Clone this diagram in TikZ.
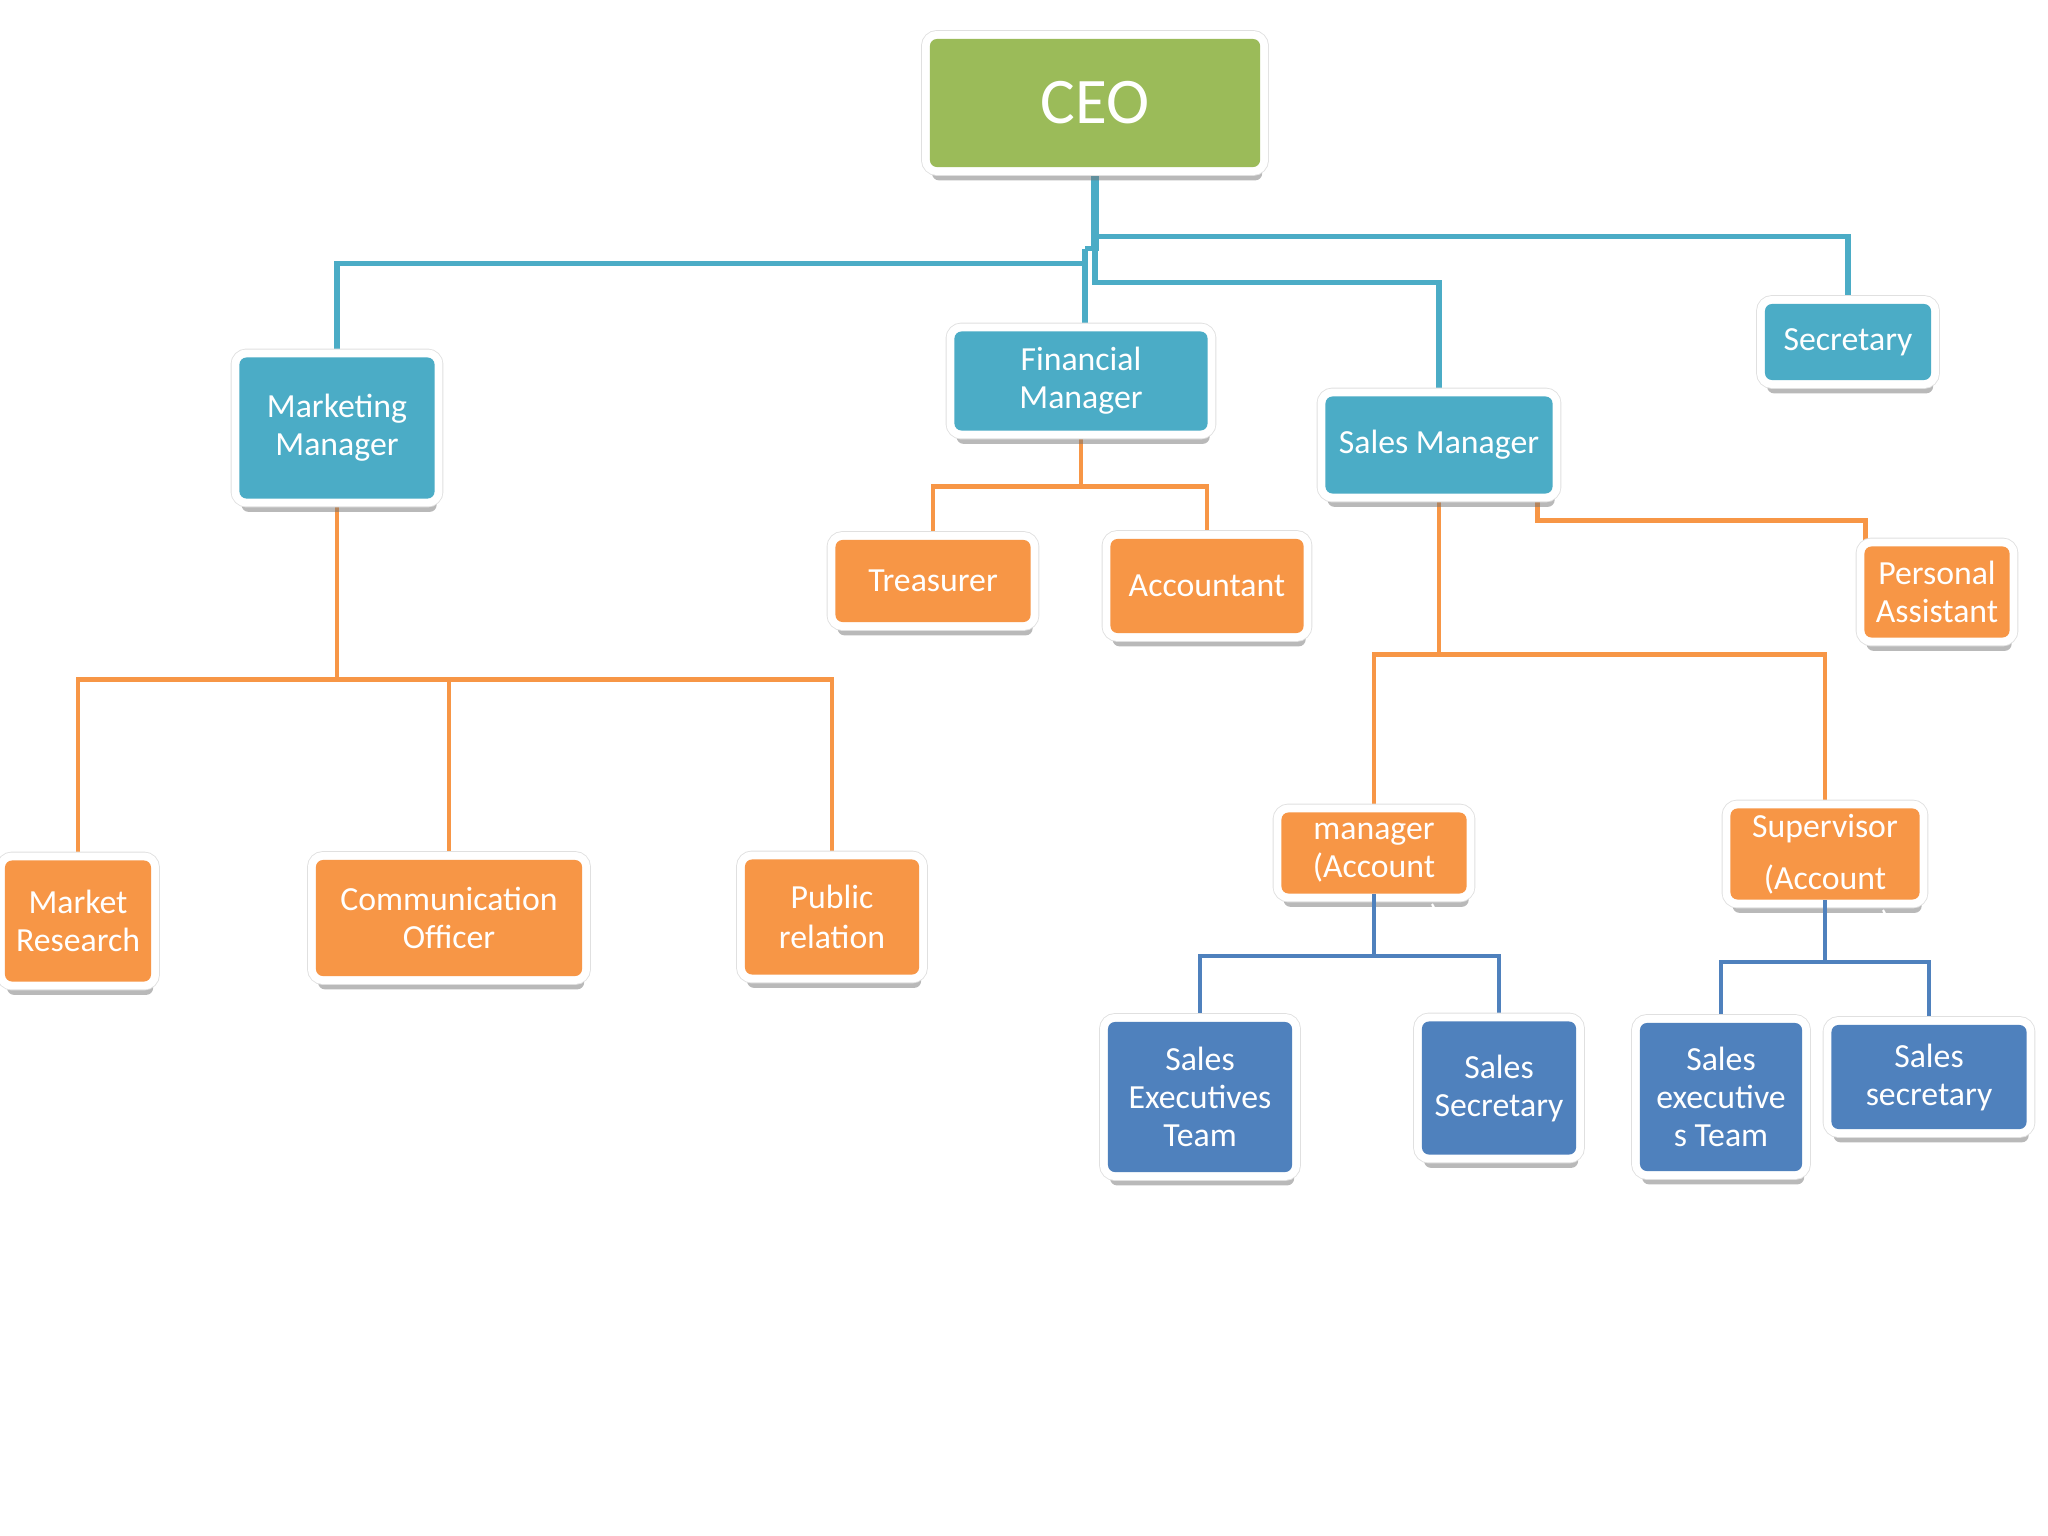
\documentclass[tikz,border=0pt]{standalone}
\usepackage{fontspec}
\setmainfont{Carlito}
\usetikzlibrary{positioning, calc, shadows, backgrounds}

\definecolor{ceogreen}{HTML}{9BBB59}
\definecolor{mgrteal}{HTML}{4BACC6}
\definecolor{staffor}{HTML}{F79646}
\definecolor{teamblue}{HTML}{4F81BD}

\begin{document}
\begin{tikzpicture}[x=0.01cm, y=-0.01cm,
    box/.style={rounded corners=2pt, inner sep=0pt, align=center, text=white,
      font=\fontsize{9.6}{10.8}\selectfont,
      drop shadow={shadow xshift=0.6pt, shadow yshift=-3.8pt, fill=black!55, opacity=0.5},
      preaction={draw=black!12, line width=5pt},
      preaction={draw=white, line width=4.5pt}},
    greenbox/.style={box, fill=ceogreen},
    tealbox/.style={box, fill=mgrteal},
    orangebox/.style={box, fill=staffor},
    bluebox/.style={box, fill=teamblue},
    tealwire/.style={draw=mgrteal, line width=1.5pt},
    orangewire/.style={draw=staffor, line width=1.3pt},
    bluewire/.style={draw=teamblue, line width=1.2pt},
    hidden/.style={font=\fontsize{9.6}{10.8}\selectfont, text=white, inner sep=0pt}
  ]
    \useasboundingbox (0,0) rectangle (2048,1536);

    % Top
    \node[greenbox, minimum width=3.3cm, minimum height=1.28cm,
      font=\fontsize{18.5}{20}\selectfont] (ceo) at (1095,103) {CEO};

    % Managers
    \node[tealbox, minimum width=1.95cm, minimum height=1.41cm] (mkt) at (337,428) {Marketing\\Manager};
    \node[tealbox, minimum width=2.53cm, minimum height=0.99cm] (fin) at (1081,381) {Financial\\Manager};
    \node[tealbox, minimum width=2.27cm, minimum height=0.97cm] (sales) at (1439,445) {Sales Manager};
    \node[tealbox, minimum width=1.66cm, minimum height=0.76cm] (sec) at (1848,342) {Secretary};

    % Staff
    \node[orangebox, minimum width=1.95cm, minimum height=0.82cm] (treas) at (933,581) {Treasurer};
    \node[orangebox, minimum width=1.93cm, minimum height=0.94cm] (acct) at (1207,586) {Accountant};
    \node[orangebox, minimum width=1.45cm, minimum height=0.91cm] (pa) at (1937,592) {Personal\\Assistant};
    \node[orangebox, minimum width=1.46cm, minimum height=1.21cm] (mres) at (78,921) {Market\\Research};
    \node[orangebox, minimum width=2.66cm, minimum height=1.16cm] (comm) at (449,918) {Communication\\Officer};
    \node[orangebox, minimum width=1.74cm, minimum height=1.15cm] (pr) at (832,917) {Public\\[0.4pt]relation};
    \node[orangebox, minimum width=1.85cm, minimum height=0.81cm,
      label={[hidden, label distance=2.5pt]below:manager)}] (accmgr) at (1374,853) {manager\\(Account};
    \node[orangebox, minimum width=1.89cm, minimum height=0.91cm,
      label={[hidden, label distance=2.5pt]below:manager)}] (superv) at (1825,854) {Supervisor\\[4pt](Account};

    % Teams
    \node[bluebox, minimum width=1.84cm, minimum height=1.50cm] (setm) at (1200,1097) {Sales\\Executives\\Team};
    \node[bluebox, minimum width=1.54cm, minimum height=1.33cm] (ssec) at (1499,1088) {Sales\\Secretary};
    \node[bluebox, minimum width=1.62cm, minimum height=1.48cm] (setm2) at (1721,1097) {Sales\\executive\\s Team};
    \node[bluebox, minimum width=1.95cm, minimum height=1.04cm] (ssec2) at (1929,1077) {Sales\\secretary};

    \begin{scope}[on background layer]
      % CEO to the managers
      \coordinate (fork) at ($(ceo.south)+(-10,81)$);
      \draw[tealwire, line width=2.5pt] (ceo.south) -- ($(ceo.south)+(0,83)$);
      \draw[tealwire] ($(ceo.south)+(0,81)$) -- (fork);
      \draw[tealwire] ($(ceo.south)+(0,69)$) -| (sec.north);
      \draw[tealwire] ($(fork)+(0,15)$) -| (mkt.north);
      \draw[tealwire] (fork) -- (fork |- fin.north);
      \draw[tealwire] (fork) -- ++(10,0) -- ++(0,34) -| (sales.north);

      % Managers to staff
      \draw[orangewire] (mkt.south) -- ++(0,180) coordinate (mkthub);
      \foreach \kid in {mres, comm, pr}
        \draw[orangewire] (mkthub) -| (\kid.north);
      \draw[orangewire] (fin.south) -- ++(0,55) coordinate (finhub);
      \foreach \kid in {treas, acct}
        \draw[orangewire] (finhub) -| (\kid.north);
      \draw[orangewire] (sales.south) -- ++(0,160) coordinate (saleshub);
      \foreach \kid in {accmgr, superv}
        \draw[orangewire] (saleshub) -| (\kid.north);
      \draw[orangewire] ($(sales.south east)+(-16,0)$) -- ++(0,26) -| ($(pa.north west)+(2,0)$);

      % Teams to account managers, lower half
      \foreach \kid in {setm, ssec}
        \draw[bluewire] ($(accmgr.south)+(0,62)$) -| (\kid.north);
      \foreach \kid in {setm2, ssec2}
        \draw[bluewire] ($(superv.south)+(0,62)$) -| (\kid.north);
    \end{scope}

    % Account managers down, over the frame
    \draw[bluewire] (accmgr.south) -- ++(0,63);
    \draw[bluewire] (superv.south) -- ++(0,63);
\end{tikzpicture}
\end{document}
